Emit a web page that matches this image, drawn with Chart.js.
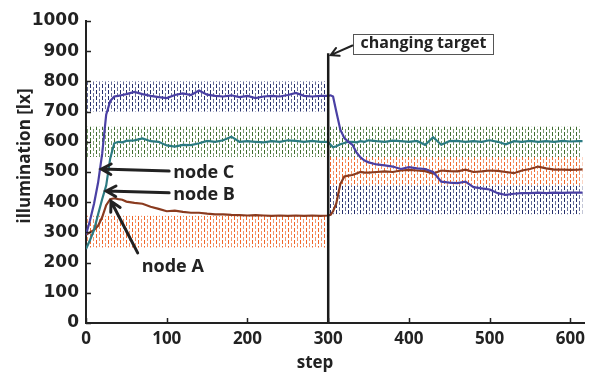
<!DOCTYPE html>
<html>
<head>
<meta charset="utf-8">
<script src="https://cdn.jsdelivr.net/npm/chart.js@4.4.1/dist/chart.umd.min.js"></script>
<style>
  html, body { margin: 0; padding: 0; background: #fff; }
  #wrap { width: 591px; height: 372px; position: relative; }
</style>
</head>
<body>
<div id="wrap"><canvas id="chart"></canvas></div>
<script>
// time steps sampled from the plot
const steps = [0, 5, 10, 15, 20, 25, 30, 35, 40, 45, 50,
    60, 70, 80, 90, 100, 110, 120, 130, 140, 150, 160, 170, 180, 190, 200,
    210, 220, 230, 240, 250, 260, 270, 280, 290, 300,
    303, 306, 310, 315, 320, 325, 330, 335, 340, 345, 350,
    360, 370, 380, 390, 400, 410, 420, 430, 440, 450, 460, 470, 480, 490, 500,
    510, 520, 530, 540, 550, 560, 570, 580, 590, 600, 610, 615];

const nodeC = [292, 340, 396, 465, 560, 690, 735, 750, 752, 755, 758,
    765, 758, 752, 748, 745, 755, 760, 755, 770, 756, 752, 750, 754, 748, 752,
    745, 750, 752, 750, 755, 762, 752, 750, 752, 752,
    754, 750, 700, 640, 612, 600, 590, 565, 548, 538, 532,
    525, 522, 518, 510, 516, 512, 510, 500, 468, 465, 463, 468, 450, 446, 442,
    430, 424, 428, 430, 430, 432, 430, 432, 431, 432, 432, 432];

const nodeB = [245, 275, 308, 360, 410, 455, 545, 595, 600, 598, 603,
    605, 611, 602, 600, 588, 584, 590, 589, 595, 603, 600, 605, 617, 600, 602,
    600, 598, 602, 600, 605, 603, 600, 603, 600, 600,
    590, 582, 585, 592, 596, 600, 600, 598, 602, 600, 605,
    602, 600, 604, 602, 600, 603, 590, 615, 590, 602, 603, 600, 602, 600, 605,
    600, 592, 602, 600, 603, 600, 602, 600, 603, 601, 602, 602];

const nodeA = [292, 300, 308, 322, 350, 390, 410, 413, 410, 408, 402,
    398, 395, 385, 378, 370, 372, 368, 365, 365, 362, 360, 360, 358, 357, 356,
    357, 356, 355, 356, 355, 356, 355, 356, 355, 356,
    358, 370, 396, 460, 485, 488, 490, 495, 500, 498, 498,
    500, 502, 500, 505, 507, 505, 503, 495, 505, 503, 502, 508, 500, 502, 505,
    504, 500, 496, 505, 510, 518, 512, 508, 508, 507, 508, 509];

// target ranges (shaded bands)
const bandNode = ['C', 'C', 'B', 'A', 'A'];
const bandFrom = [0, 300, 0, 0, 300];
const bandTo = [300, 615, 612, 300, 615];
const bandLow = [700, 360, 550, 250, 455];
const bandHigh = [800, 455, 650, 355, 550];

const targetStep = 300;
const targetTop = 893;

const yTicks = [0, 100, 200, 300, 400, 500, 600, 700, 800, 900, 1000];
const xTicks = [0, 100, 200, 300, 400, 500, 600];

const lineColor = { A: '#8a3b1f', B: '#2c7b82', C: '#4a40a4' };
const dashColor = { A: '#f0672a', B: '#3f6d2f', C: '#26306c' };

function makePattern(color) {
    const c = document.createElement('canvas');
    c.width = 6;
    c.height = 6;
    const g = c.getContext('2d');
    g.fillStyle = color;
    g.fillRect(0, 0, 1, 4);
    g.globalAlpha = 0.7;
    g.fillRect(3, 3, 1, 3);
    g.fillRect(3, 0, 1, 1);
    return g.createPattern(c, 'repeat');
}

function series(values) {
    return steps.map((s, i) => ({ x: s, y: values[i] }));
}

const datasets = [];
[['C', nodeC], ['B', nodeB], ['A', nodeA]].forEach(([k, v]) => {
    datasets.push({
        data: series(v),
        borderColor: lineColor[k],
        borderWidth: 2.2,
        pointRadius: 0,
        tension: 0,
        fill: false,
        order: 1
    });
});

datasets.push({
    data: [{ x: targetStep, y: 0 }, { x: targetStep, y: targetTop }],
    borderColor: '#1a1a1a',
    borderWidth: 2.5,
    pointRadius: 0,
    fill: false,
    order: 0
});

bandNode.forEach((k, i) => {
    datasets.push({
        data: [{ x: bandFrom[i], y: bandHigh[i] }, { x: bandTo[i], y: bandHigh[i] }],
        borderWidth: 0,
        borderColor: 'rgba(0,0,0,0)',
        backgroundColor: makePattern(dashColor[k]),
        pointRadius: 0,
        fill: { value: bandLow[i] },
        order: 10
    });
});

// node labels and arrows, in data coordinates
const notes = [
    { text: 'node C', x: 108, y: 497, from: [103, 503], to: [19, 510] },
    { text: 'node B', x: 108, y: 424, from: [103, 431], to: [25, 437] },
    { text: 'node A', x: 69, y: 186, from: [64, 232], to: [31, 403] }
];

function arrow(ctx, x1, y1, x2, y2, w, head) {
    const a = Math.atan2(y2 - y1, x2 - x1);
    ctx.lineWidth = w;
    ctx.lineCap = 'round';
    ctx.beginPath();
    ctx.moveTo(x1, y1);
    ctx.lineTo(x2, y2);
    ctx.moveTo(x2 - head * Math.cos(a - 0.5), y2 - head * Math.sin(a - 0.5));
    ctx.lineTo(x2, y2);
    ctx.lineTo(x2 - head * Math.cos(a + 0.5), y2 - head * Math.sin(a + 0.5));
    ctx.stroke();
}

const extras = {
    id: 'extras',
    afterDraw(chart) {
        const ctx = chart.ctx;
        const xs = chart.scales.x, ys = chart.scales.y;
        const area = chart.chartArea;
        ctx.save();
        ctx.strokeStyle = '#222';
        ctx.lineWidth = 1.5;
        ctx.beginPath();
        yTicks.forEach(v => {
            const p = Math.round(ys.getPixelForValue(v)) + 0.5;
            ctx.moveTo(area.left, p);
            ctx.lineTo(area.left + 5, p);
        });
        xTicks.forEach(v => {
            const p = Math.round(xs.getPixelForValue(v)) + 0.5;
            ctx.moveTo(p, area.bottom);
            ctx.lineTo(p, area.bottom - 5);
        });
        ctx.stroke();

        ctx.fillStyle = '#222';
        ctx.strokeStyle = '#222';
        ctx.font = 'bold 18px "Open Sans"';
        ctx.textAlign = 'left';
        ctx.textBaseline = 'middle';
        notes.forEach(n => {
            ctx.fillText(n.text, xs.getPixelForValue(n.x), ys.getPixelForValue(n.y));
            arrow(ctx, xs.getPixelForValue(n.from[0]), ys.getPixelForValue(n.from[1]),
                xs.getPixelForValue(n.to[0]), ys.getPixelForValue(n.to[1]), 3, 11);
        });

        // changing target box
        const bx = xs.getPixelForValue(331), by = ys.getPixelForValue(958);
        const bw = xs.getPixelForValue(505) - bx, bh = ys.getPixelForValue(891) - by;
        ctx.lineWidth = 1;
        ctx.strokeStyle = '#555';
        ctx.strokeRect(Math.round(bx) + 0.5, Math.round(by) + 0.5, Math.round(bw), Math.round(bh));
        ctx.font = 'bold 16px "Open Sans"';
        ctx.textAlign = 'center';
        ctx.fillText('changing target', bx + bw / 2, by + bh / 2);
        ctx.strokeStyle = '#222';
        arrow(ctx, xs.getPixelForValue(330), ys.getPixelForValue(919),
            xs.getPixelForValue(303), ys.getPixelForValue(887), 2, 9);

        // axis titles
        ctx.font = 'bold 17px "Open Sans"';
        ctx.textAlign = 'center';
        ctx.textBaseline = 'middle';
        ctx.fillText('step', 315, 363);
        ctx.translate(25, 156);
        ctx.rotate(-Math.PI / 2);
        ctx.fillText('illumination [lx]', 0, 0);
        ctx.restore();
    }
};

new Chart(document.getElementById('chart'), {
    type: 'line',
    data: { datasets },
    options: {
        responsive: true,
        maintainAspectRatio: false,
        animation: false,
        layout: { padding: { top: 21, right: 0, left: 0, bottom: 0 } },
        plugins: {
            legend: { display: false },
            tooltip: { enabled: false }
        },
        scales: {
            x: {
                type: 'linear',
                min: 0,
                max: 618,
                afterBuildTicks: s => { s.ticks = xTicks.map(v => ({ value: v })); },
                afterFit: s => { s.height = 49; },
                grid: { display: false, drawTicks: false },
                border: { color: '#222', width: 2 },
                ticks: {
                    color: '#222',
                    padding: 6,
                    maxRotation: 0,
                    callback: v => String(v),
                    font: { family: '"Open Sans"', weight: 'bold', size: 17 }
                }
            },
            y: {
                min: 0,
                max: 1000,
                afterBuildTicks: s => { s.ticks = yTicks.map(v => ({ value: v })); },
                afterFit: s => { s.width = 86; },
                grid: { display: false, drawTicks: false },
                border: { color: '#222', width: 2 },
                ticks: {
                    color: '#222',
                    padding: 7,
                    callback: v => String(v),
                    font: { family: '"DejaVu Sans"', weight: 'bold', size: 17 }
                }
            }
        }
    },
    plugins: [extras]
});
</script>
</body>
</html>
